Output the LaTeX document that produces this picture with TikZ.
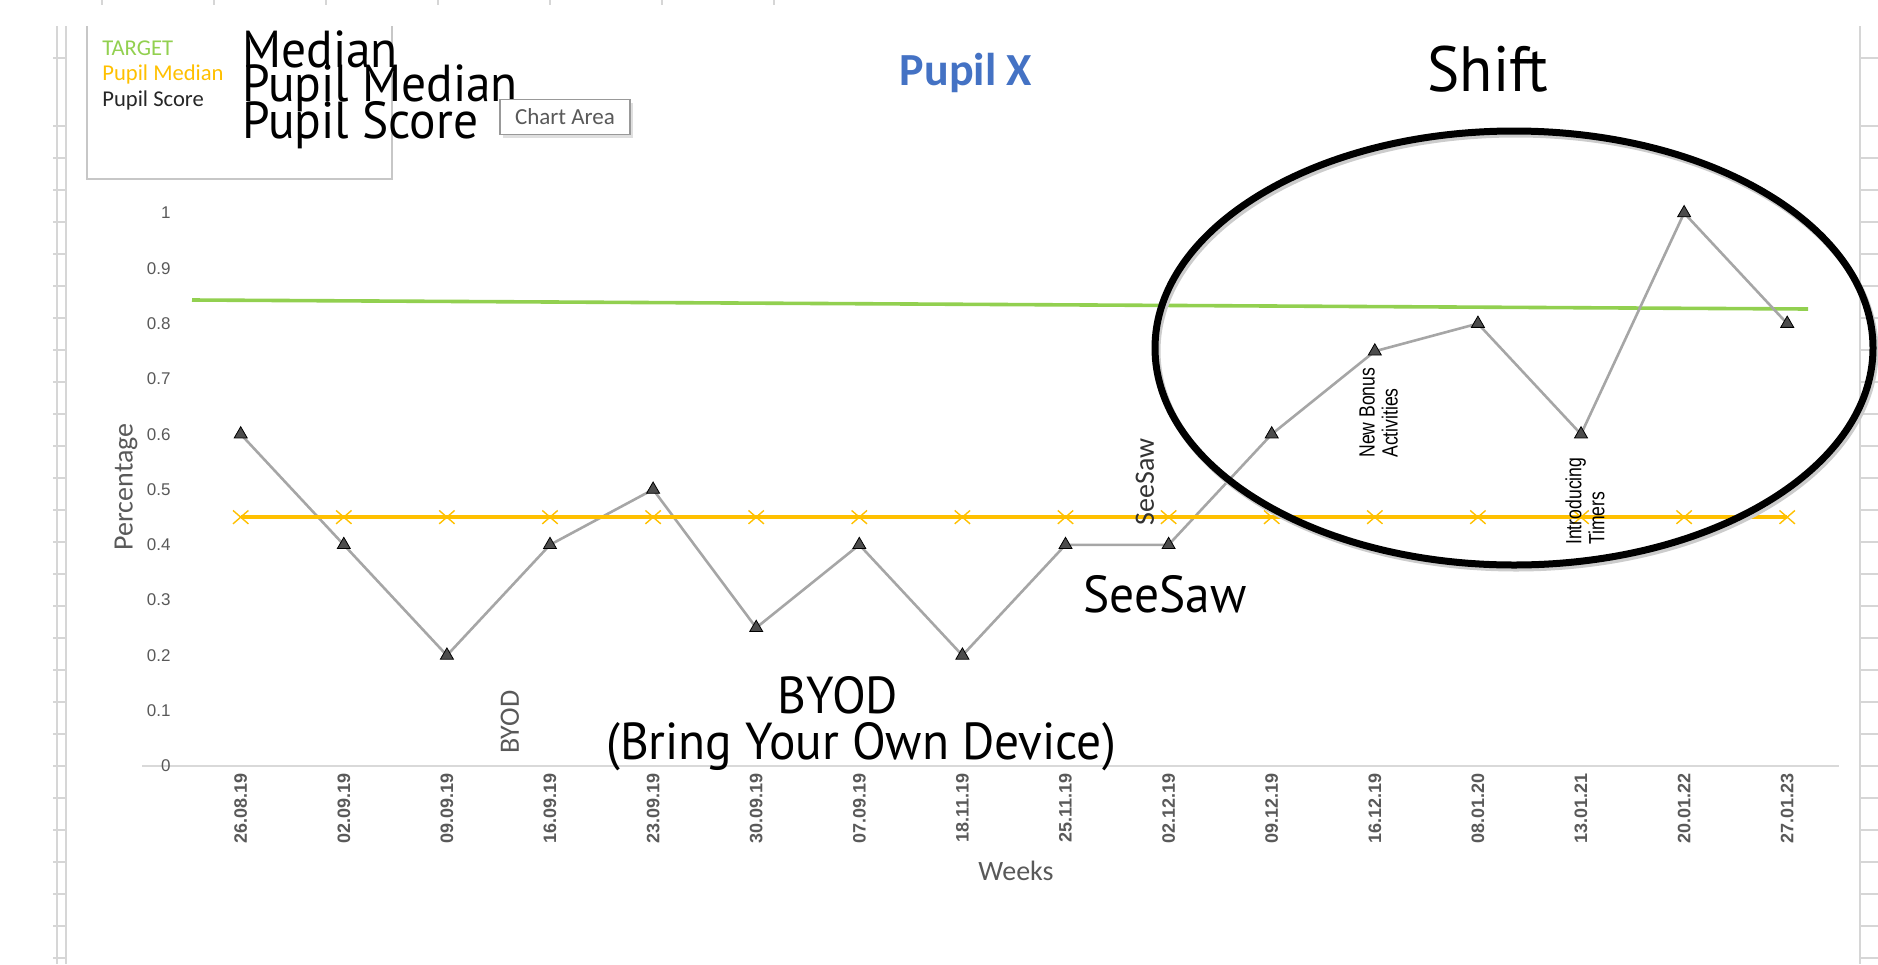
\documentclass[tikz,border=0pt]{standalone}
\usepackage{fontspec}
\setmainfont{Carlito}
\newfontfamily\bigfont{PT Sans}
\newfontfamily\arialfont{Liberation Sans}
\usetikzlibrary{shapes.geometric,shapes.misc,shadows,positioning}

\definecolor{targetgreen}{HTML}{92D050}
\definecolor{medianorange}{HTML}{FFC000}
\definecolor{scoregrey}{HTML}{A6A6A6}
\definecolor{axisgrey}{HTML}{595959}
\definecolor{titleblue}{HTML}{4472C4}
\definecolor{cellgrey}{HTML}{D6D6D6}

\begin{document}
\begin{tikzpicture}[x=0.5pt, y=-0.5pt,
cell/.style={draw=cellgrey, line width=0.6pt},
tri/.style={regular polygon, regular polygon sides=3, draw=black, fill=black!70,
  line width=0.4pt, inner sep=0pt, minimum size=7.5pt},
cross/.style={cross out, draw=medianorange, line width=0.7pt, inner sep=0pt,
  minimum width=7pt, minimum height=6pt},
big/.style={font=\bigfont\fontsize{26}{26}\selectfont, xscale=0.95, inner sep=0pt},
legend/.style={font=\fontsize{11.3}{11.3}\selectfont, anchor=west, inner sep=0pt},
datelabel/.style={font=\arialfont\bfseries\fontsize{9}{9}\selectfont, text=axisgrey,
  rotate=90, anchor=east, inner sep=0pt},
vallabel/.style={font=\arialfont\fontsize{8.5}{8.5}\selectfont, text=axisgrey,
  anchor=east, inner sep=0pt},
axistitle/.style={font=\fontsize{14}{14}\selectfont, text=axisgrey, inner sep=0pt},
event/.style={font=\arialfont\fontsize{11}{11.5}\selectfont, rotate=90, xscale=0.8,
  align=left, anchor=north west, inner sep=0pt},
marker/.style={font=\fontsize{14}{14}\selectfont, rotate=90, inner sep=0pt},
ring/.style={ellipse, line width=3.5pt, minimum width=359pt, minimum height=217pt,
  inner sep=0pt}]

\useasboundingbox (0,0) rectangle (1878,964);

% cells of the sheet behind the chart
\draw[cell] (57,26) -- (57,964);
\draw[cell] (66,26) -- (66,964);
\draw[cell] (1860,26) -- (1860,964);
\foreach \r in {58,126,158,...,964} {
  \draw[cell] (53,\r) -- (66,\r);
  \draw[cell] (1860,\r) -- (1878,\r);
}
\foreach \c in {102,214,...,774}
  \draw[cell] (\c,0) -- (\c,5);

% legend
\draw[draw=black!22, line width=0.6pt] (87,26) |- (392,179) -- (392,26);
\node[legend, text=targetgreen] (legtarget) at (102,48) {TARGET};
\node[legend, text=medianorange] (legmedian) at (102,74) {Pupil Median};
\node[legend, text=black!85] (legscore) at (102,100) {Pupil Score};

\node[big, anchor=base west] (medtext) at (242,67) {Median};
\node[big, anchor=base west] (pupilmed) at (242,101) {Pupil Median};
\node[big, anchor=base west] (pupilscore) at (242,138) {Pupil Score};

\node[draw=black!40, fill=white, line width=0.6pt, font=\fontsize{11.5}{11.5}\selectfont,
  text=black!65, minimum width=65pt, minimum height=17.5pt, inner sep=0pt,
  drop shadow={shadow xshift=1.5pt, shadow yshift=-1.5pt, opacity=0.25}] (tip) at (565,117) {Chart Area};

\node[font=\bfseries\fontsize{23}{23}\selectfont, text=titleblue, anchor=base] (title) at (966,85) {Pupil X};

% axes
\node[axistitle, rotate=90] (ytitle) at (126,487) {Percentage};
\node[axistitle] (xtitle) at (1016,871) {Weeks};

\coordinate (tstart) at (192,300);
\coordinate (tend) at (1808,309);
\draw[targetgreen, line width=1.8pt] (tstart) -- (tend);

\begin{scope}[shift={(240.7,766)}, x=51.55pt, y=276.5pt]
\coordinate (xa) at (-0.957,0);
\coordinate (xb) at (15.5,0);
\draw[draw=black!15, line width=0.8pt] (xa) -- (xb);
\foreach \v [count=\k] in {0,0.1,0.2,0.3,0.4,0.5,0.6,0.7,0.8,0.9,1}
  \node[vallabel] (yl\k) at (-0.676,\v) {\v};
\foreach \d [count=\k from 0] in {26.08.19,02.09.19,09.09.19,16.09.19,23.09.19,30.09.19,07.09.19,18.11.19,25.11.19,02.12.19,09.12.19,16.12.19,08.01.20,13.01.21,20.01.22,27.01.23}
  \node[datelabel] (date\k) at (\k,-0.012) {\d};
\foreach \v [count=\k from 0] in {0.6,0.4,0.2,0.4,0.5,0.25,0.4,0.2,0.4,0.4,0.6,0.75,0.8,0.6,1,0.8}
  \coordinate (s\k) at (\k,\v);
\draw[scoregrey, line width=1.3pt] (s0) \foreach \k in {1,...,15} {-- (s\k)};
\coordinate (m0) at (0,0.45);
\coordinate (m15) at (15,0.45);
\draw[medianorange, line width=1.7pt] (m0) -- (m15);
\foreach \k in {0,...,15} {
  \node[cross] (mx\k) at (\k,0.45) {};
  \node[tri] (pt\k) at (s\k) {};
}
\end{scope}

% notes
\node[event] (bonus) at (1359,458) {New Bonus\\Activities};
\node[event] (timers) at (1565,545) {Introducing\\Timers};
\node[marker, text=axisgrey] (byodnote) at (510,722) {BYOD};
\node[marker, text=black!80] (seesawnote) at (1145,482) {SeeSaw};

\node[big, anchor=base west] (seesaw) at (1083,612) {SeeSaw};
\node[big, anchor=base] (byod) at (838,713) {BYOD};
\node[big, anchor=base] (byodlong) at (861,759) {(Bring Your Own Device)};

\node[ring, draw=black!20] (ringshadow) at (1516,351) {};
\node[ring, draw=black] (ring) at (1514,348) {};
\node[big, font=\bigfont\fontsize{32}{32}\selectfont, anchor=base] (shift) at (1488,91) {Shift};

\end{tikzpicture}
\end{document}
